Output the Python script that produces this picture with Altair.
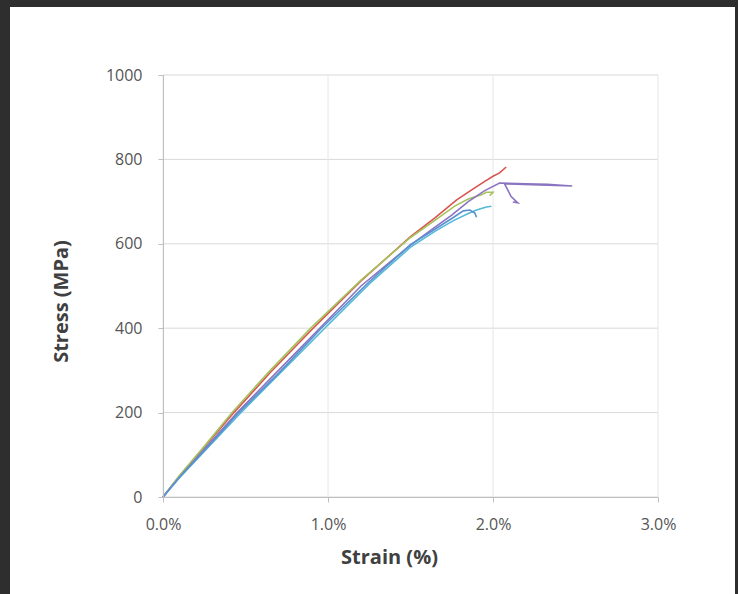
import altair as alt
import pandas as pd

# ---- data (strain in %, stress in MPa) ----
series_names = ["Sample 1", "Sample 2", "Sample 3", "Sample 4", "Sample 5"]
series_colors = ["#D9534F", "#A5C25C", "#8A73C0", "#52B9D8", "#5B8FCF"]

s1_strain = [0, 0.1, 0.25, 0.43, 0.65, 0.91, 1.2, 1.5, 1.65, 1.78, 1.88, 1.95, 2.0, 2.04, 2.08]
s1_stress = [0, 50, 118, 200, 295, 400, 512, 617, 662, 704, 730, 748, 760, 768, 782]

s2_strain = [0, 0.1, 0.25, 0.42, 0.65, 0.9, 1.2, 1.5, 1.65, 1.77, 1.85, 1.93, 1.96, 2.0, 1.98]
s2_stress = [0, 51, 120, 201, 300, 402, 514, 615, 656, 690, 706, 716, 722, 722, 714]

s3_strain = [0, 0.1, 0.25, 0.45, 0.7, 0.95, 1.2, 1.5, 1.64, 1.75, 1.85, 1.95, 2.04, 2.2, 2.33, 2.48,
             2.07, 2.11, 2.15, 2.12]
s3_stress = [0, 47, 113, 200, 300, 400, 500, 597, 637, 668, 700, 726, 744, 742, 741, 737,
             742, 712, 697, 699]

s4_strain = [0, 0.1, 0.25, 0.46, 0.7, 0.98, 1.25, 1.5, 1.65, 1.76, 1.85, 1.9, 1.96, 1.99]
s4_stress = [0, 46, 108, 195, 290, 400, 505, 592, 630, 655, 672, 680, 687, 689]

s5_strain = [0, 0.1, 0.25, 0.45, 0.7, 0.96, 1.25, 1.5, 1.65, 1.75, 1.82, 1.86, 1.89, 1.90]
s5_stress = [0, 47, 110, 196, 293, 400, 510, 598, 635, 660, 678, 680, 673, 663]

x_ticks = [0, 1, 2, 3]
y_ticks = [0, 200, 400, 600, 800, 1000]

rows = []
for name, xs, ys in zip(series_names,
                        [s1_strain, s2_strain, s3_strain, s4_strain, s5_strain],
                        [s1_stress, s2_stress, s3_stress, s4_stress, s5_stress]):
    for i, (x, y) in enumerate(zip(xs, ys)):
        rows.append({"series": name, "strain": x, "stress": y, "order": i})
df = pd.DataFrame(rows)

W, H = 495, 422
FONT = "Open Sans"

xscale = alt.Scale(domain=[0, 3], nice=False)
yscale = alt.Scale(domain=[0, 1000], nice=False)

x_axis = alt.Axis(values=x_ticks, grid=False, zindex=1, labelFlush=False,
                  labelExpr="format(datum.value, '.1f') + '%'",
                  domainColor="#bfbfbf", tickColor="#bfbfbf", tickSize=5,
                  labelFont=FONT, labelFontSize=16, labelColor="#555555",
                  labelPadding=14,
                  title="Strain (%)", titleFont=FONT, titleFontSize=20,
                  titleFontWeight="bold", titleColor="#404040",
                  titleX=226, titleY=50, titleAlign="center", titleBaseline="top")
y_axis = alt.Axis(values=y_ticks, grid=False, zindex=1, labelFlush=False, format="d",
                  domainColor="#bfbfbf", tickColor="#bfbfbf", tickSize=5,
                  labelFont=FONT, labelFontSize=16, labelColor="#555555",
                  labelPadding=16,
                  title="Stress (MPa)", titleFont=FONT, titleFontSize=20,
                  titleFontWeight="bold", titleColor="#404040",
                  titleAngle=270, titleX=-102, titleY=226,
                  titleAlign="center", titleBaseline="middle")

# white slide panel behind the chart
panel = alt.Chart(alt.Data(values=[{"p": 1}])).mark_rect(color="white").encode(
    x=alt.value(-153), x2=alt.value(572), y=alt.value(-68), y2=alt.value(530)
)

hgrid = alt.Chart(pd.DataFrame({"v": y_ticks})).mark_rule(color="#d9d9d9", strokeWidth=1).encode(
    y=alt.Y("v:Q", scale=yscale, axis=y_axis)
)
vgrid = alt.Chart(pd.DataFrame({"v": x_ticks})).mark_rule(color="#e6e6e6", strokeWidth=1).encode(
    x=alt.X("v:Q", scale=xscale, axis=x_axis)
)

lines = alt.Chart(df).mark_line(strokeWidth=1.6).encode(
    x=alt.X("strain:Q", scale=xscale, axis=x_axis),
    y=alt.Y("stress:Q", scale=yscale, axis=y_axis),
    color=alt.Color("series:N", scale=alt.Scale(domain=series_names, range=series_colors),
                    legend=None),
    order="order:Q",
)

chart = alt.layer(panel, hgrid, vgrid, lines).properties(
    width=W, height=H,
    autosize=alt.AutoSizeParams(type="none"),
    padding={"left": 163, "top": 75, "right": 80, "bottom": 97},
    background="#2e2e2e",
).configure_view(stroke=None)

chart.save("out.html", embed_options={"renderer": "svg", "actions": False})
